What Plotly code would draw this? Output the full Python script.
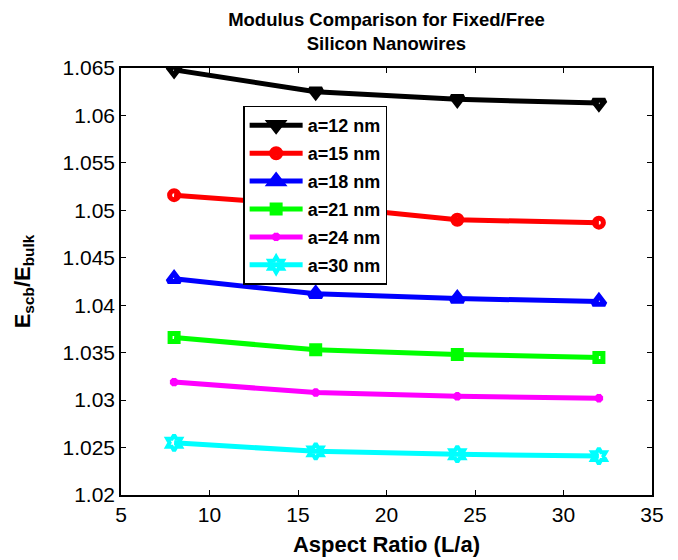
import plotly.graph_objects as go

aspect_ratio = [8, 16, 24, 32]
series_names = ["a=12 nm", "a=15 nm", "a=18 nm", "a=21 nm", "a=24 nm", "a=30 nm"]
e_a12 = [1.0648, 1.0625, 1.0617, 1.0613]
e_a15 = [1.0516, 1.0505, 1.0490, 1.0487]
e_a18 = [1.0428, 1.0412, 1.0407, 1.0404]
e_a21 = [1.0366, 1.0353, 1.0348, 1.0345]
e_a24 = [1.0319, 1.0308, 1.0304, 1.0302]
e_a30 = [1.0255, 1.0246, 1.0243, 1.0241]
series_values = [e_a12, e_a15, e_a18, e_a21, e_a24, e_a30]

colors = ["#000000", "#FF0000", "#0000FF", "#00FF00", "#FF00FF", "#00FFFF"]
symbols = ["triangle-down-open", "circle-open", "triangle-up-open", "square-open",
           "asterisk-open", "hexagram-open"]
sizes = [11, 9, 11, 8, 7, 12]
edge_widths = [5, 5, 5, 5, 4, 4]

x_ticks = [5, 10, 15, 20, 25, 30, 35]
y_ticks = [1.02, 1.025, 1.03, 1.035, 1.04, 1.045, 1.05, 1.055, 1.06, 1.065]
y_tick_labels = ["1.02", "1.025", "1.03", "1.035", "1.04", "1.045", "1.05", "1.055", "1.06", "1.065"]

FONT = "Liberation Sans, Arial, Helvetica, sans-serif"

fig = go.Figure()
for i, (name, vals) in enumerate(zip(series_names, series_values)):
    fig.add_trace(go.Scatter(
        x=aspect_ratio, y=vals, name=name, mode="lines+markers",
        legendgroup=f"g{i}",
        line=dict(color=colors[i], width=5),
        marker=dict(symbol=symbols[i], size=sizes[i], color=colors[i],
                    line=dict(color=colors[i], width=edge_widths[i])),
    ))

axis_common = dict(
    showline=True, linecolor="black", linewidth=1.5, mirror="ticks",
    ticks="inside", ticklen=5, tickwidth=1, tickcolor="black",
    showgrid=False, zeroline=False, automargin=False,
    tickfont=dict(family=FONT, size=21, color="black"),
)

fig.update_xaxes(range=[5, 35], tickvals=x_ticks,
                 title=dict(text="<b>Aspect Ratio (L/a)</b>", standoff=12,
                            font=dict(family=FONT, size=22, color="black")),
                 **axis_common)
fig.update_yaxes(range=[1.02, 1.065], tickvals=y_ticks, ticktext=y_tick_labels,
                 title=dict(text="<b>E<sub>scb</sub>/E<sub>bulk</sub></b>", standoff=26,
                            font=dict(family=FONT, size=22, color="black")),
                 **axis_common)

fig.update_layout(
    width=678, height=560,
    margin=dict(l=121, r=26, t=68, b=65),
    paper_bgcolor="white", plot_bgcolor="white",
    title=dict(text="<b>Modulus Comparison for Fixed/Free<br>Silicon Nanowires</b>",
               x=0.57, xanchor="center", xref="container",
               y=1 - 26 / 560, yanchor="middle", yref="container",
               font=dict(family=FONT, size=18.5, color="black")),
    legend=dict(x=0.23, y=0.912, xanchor="left", yanchor="top",
                bgcolor="white", bordercolor="black", borderwidth=1.5,
                font=dict(family=FONT, size=18, color="black", weight="bold"),
                itemwidth=53, tracegroupgap=1.5),
    showlegend=True,
)

fig.write_html("out.html")
